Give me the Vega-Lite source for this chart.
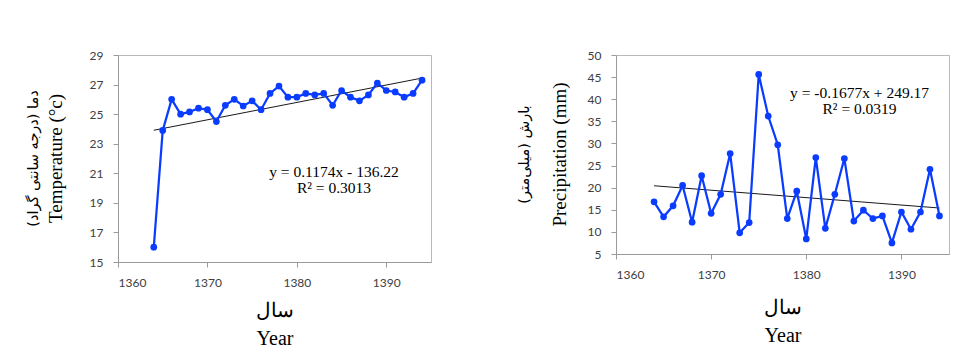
{
  "$schema": "https://vega.github.io/schema/vega-lite/v6.json",
  "background": "white",
  "padding": {"left": 25, "top": 48, "right": 5, "bottom": 5},
  "datasets": {
    "temp": [
      {"year": 1364, "value": 16.0}, {"year": 1365, "value": 23.9}, {"year": 1366, "value": 26.0},
      {"year": 1367, "value": 25.0}, {"year": 1368, "value": 25.15}, {"year": 1369, "value": 25.4},
      {"year": 1370, "value": 25.3}, {"year": 1371, "value": 24.5}, {"year": 1372, "value": 25.6},
      {"year": 1373, "value": 26.0}, {"year": 1374, "value": 25.55}, {"year": 1375, "value": 25.9},
      {"year": 1376, "value": 25.3}, {"year": 1377, "value": 26.4}, {"year": 1378, "value": 26.9},
      {"year": 1379, "value": 26.15}, {"year": 1380, "value": 26.15}, {"year": 1381, "value": 26.4},
      {"year": 1382, "value": 26.3}, {"year": 1383, "value": 26.4}, {"year": 1384, "value": 25.6},
      {"year": 1385, "value": 26.6}, {"year": 1386, "value": 26.15}, {"year": 1387, "value": 25.9},
      {"year": 1388, "value": 26.3}, {"year": 1389, "value": 27.1}, {"year": 1390, "value": 26.6},
      {"year": 1391, "value": 26.5}, {"year": 1392, "value": 26.15}, {"year": 1393, "value": 26.4},
      {"year": 1394, "value": 27.3}
    ],
    "precip": [
      {"year": 1364, "value": 16.8}, {"year": 1365, "value": 13.4}, {"year": 1366, "value": 15.9},
      {"year": 1367, "value": 20.5}, {"year": 1368, "value": 12.2}, {"year": 1369, "value": 22.7},
      {"year": 1370, "value": 14.2}, {"year": 1371, "value": 18.5}, {"year": 1372, "value": 27.7},
      {"year": 1373, "value": 9.8}, {"year": 1374, "value": 12.1}, {"year": 1375, "value": 45.6},
      {"year": 1376, "value": 36.2}, {"year": 1377, "value": 29.7}, {"year": 1378, "value": 13.0},
      {"year": 1379, "value": 19.2}, {"year": 1380, "value": 8.4}, {"year": 1381, "value": 26.8},
      {"year": 1382, "value": 10.8}, {"year": 1383, "value": 18.5}, {"year": 1384, "value": 26.6},
      {"year": 1385, "value": 12.45}, {"year": 1386, "value": 14.9}, {"year": 1387, "value": 13.0},
      {"year": 1388, "value": 13.6}, {"year": 1389, "value": 7.5}, {"year": 1390, "value": 14.5},
      {"year": 1391, "value": 10.6}, {"year": 1392, "value": 14.5}, {"year": 1393, "value": 24.15},
      {"year": 1394, "value": 13.6}
    ],
    "trendT": [{"year": 1364, "value": 23.91}, {"year": 1394, "value": 27.44}],
    "trendP": [{"year": 1364, "value": 20.43}, {"year": 1394, "value": 15.40}],
    "eqT": [{"eq": "y = 0.1174x - 136.22\nR² = 0.3013"}],
    "eqP": [{"eq": "y = -0.1677x + 249.17\nR² = 0.0319"}]
  },
  "spacing": 84,
  "hconcat": [
    {
      "width": 313,
      "height": 207,
      "title": {
        "text": "دما (درجه سانتی گراد)",
        "subtitle": "Temperature (°c)",
        "orient": "left",
        "anchor": "middle",
        "font": "DejaVu Sans",
        "fontSize": 14.5,
        "fontWeight": "normal",
        "color": "black",
        "subtitleFont": "Liberation Serif",
        "subtitleFontSize": 19,
        "subtitleColor": "black",
        "subtitlePadding": 6,
        "offset": 22
      },
      "layer": [
        {
          "data": {"name": "trendT"},
          "mark": {"type": "line", "color": "#1a1a1a", "strokeWidth": 1},
          "encoding": {
            "x": {"field": "year", "type": "quantitative",
                  "scale": {"domain": [1360, 1395], "nice": false, "zero": false},
                  "axis": {"values": [1360, 1370, 1380, 1390], "format": "d", "title": ["سال", "Year"]}},
            "y": {"field": "value", "type": "quantitative",
                  "scale": {"domain": [15, 29], "nice": false, "zero": false},
                  "axis": {"values": [15, 17, 19, 21, 23, 25, 27, 29], "title": null}}
          }
        },
        {
          "data": {"name": "temp"},
          "mark": {"type": "line", "color": "#0a3cff", "strokeWidth": 2.25,
                   "point": {"filled": true, "size": 45, "color": "#0a3cff"}},
          "encoding": {
            "x": {"field": "year", "type": "quantitative",
                  "scale": {"domain": [1360, 1395], "nice": false, "zero": false},
                  "axis": {"values": [1360, 1370, 1380, 1390], "format": "d", "title": ["سال", "Year"]}},
            "y": {"field": "value", "type": "quantitative",
                  "scale": {"domain": [15, 29], "nice": false, "zero": false},
                  "axis": {"values": [15, 17, 19, 21, 23, 25, 27, 29], "title": null}}
          }
        },
        {
          "data": {"name": "eqT"},
          "mark": {"type": "text", "font": "Liberation Serif", "fontSize": 15.5, "lineHeight": 16,
                   "lineBreak": "\n", "align": "center", "baseline": "middle", "color": "black"},
          "encoding": {
            "x": {"datum": 1384.15, "type": "quantitative",
                  "scale": {"domain": [1360, 1395], "nice": false, "zero": false},
                  "axis": {"values": [1360, 1370, 1380, 1390], "format": "d", "title": ["سال", "Year"]}},
            "y": {"datum": 21.1, "type": "quantitative",
                  "scale": {"domain": [15, 29], "nice": false, "zero": false},
                  "axis": {"values": [15, 17, 19, 21, 23, 25, 27, 29], "title": null}},
            "text": {"field": "eq", "type": "nominal"}
          }
        }
      ]
    },
    {
      "width": 333,
      "height": 199,
      "title": {
        "text": "بارش (میلی‌متر)",
        "subtitle": "Precipitation (mm)",
        "orient": "left",
        "anchor": "middle",
        "font": "DejaVu Sans",
        "fontSize": 14.5,
        "fontWeight": "normal",
        "color": "black",
        "subtitleFont": "Liberation Serif",
        "subtitleFontSize": 19,
        "subtitleColor": "black",
        "subtitlePadding": 19,
        "offset": 16
      },
      "layer": [
        {
          "data": {"name": "trendP"},
          "mark": {"type": "line", "color": "#1a1a1a", "strokeWidth": 1},
          "encoding": {
            "x": {"field": "year", "type": "quantitative",
                  "scale": {"domain": [1360, 1395], "nice": false, "zero": false},
                  "axis": {"values": [1360, 1370, 1380, 1390], "format": "d", "title": ["سال", "Year"], "titlePadding": 17}},
            "y": {"field": "value", "type": "quantitative",
                  "scale": {"domain": [5, 50], "nice": false, "zero": false},
                  "axis": {"values": [5, 10, 15, 20, 25, 30, 35, 40, 45, 50], "title": null}}
          }
        },
        {
          "data": {"name": "precip"},
          "mark": {"type": "line", "color": "#0a3cff", "strokeWidth": 2.25,
                   "point": {"filled": true, "size": 45, "color": "#0a3cff"}},
          "encoding": {
            "x": {"field": "year", "type": "quantitative",
                  "scale": {"domain": [1360, 1395], "nice": false, "zero": false},
                  "axis": {"values": [1360, 1370, 1380, 1390], "format": "d", "title": ["سال", "Year"], "titlePadding": 17}},
            "y": {"field": "value", "type": "quantitative",
                  "scale": {"domain": [5, 50], "nice": false, "zero": false},
                  "axis": {"values": [5, 10, 15, 20, 25, 30, 35, 40, 45, 50], "title": null}}
          }
        },
        {
          "data": {"name": "eqP"},
          "mark": {"type": "text", "font": "Liberation Serif", "fontSize": 15.5, "lineHeight": 16,
                   "lineBreak": "\n", "align": "center", "baseline": "middle", "color": "black"},
          "encoding": {
            "x": {"datum": 1385.6, "type": "quantitative",
                  "scale": {"domain": [1360, 1395], "nice": false, "zero": false},
                  "axis": {"values": [1360, 1370, 1380, 1390], "format": "d", "title": ["سال", "Year"], "titlePadding": 17}},
            "y": {"datum": 41.4, "type": "quantitative",
                  "scale": {"domain": [5, 50], "nice": false, "zero": false},
                  "axis": {"values": [5, 10, 15, 20, 25, 30, 35, 40, 45, 50], "title": null}},
            "text": {"field": "eq", "type": "nominal"}
          }
        }
      ]
    }
  ],
  "config": {
    "view": {"stroke": "#b8b8b8", "strokeWidth": 1},
    "axis": {
      "grid": false,
      "domainColor": "#9a9a9a",
      "tickColor": "#9a9a9a",
      "tickSize": 5,
      "labelColor": "#404040",
      "labelFont": "Lato",
      "labelFontSize": 12,
      "labelPadding": 10,
      "titleFont": "Liberation Serif",
      "titleFontSize": 20,
      "titleFontWeight": "normal",
      "titleColor": "black",
      "titleLineHeight": 28,
      "titlePadding": 12
    }
  }
}
